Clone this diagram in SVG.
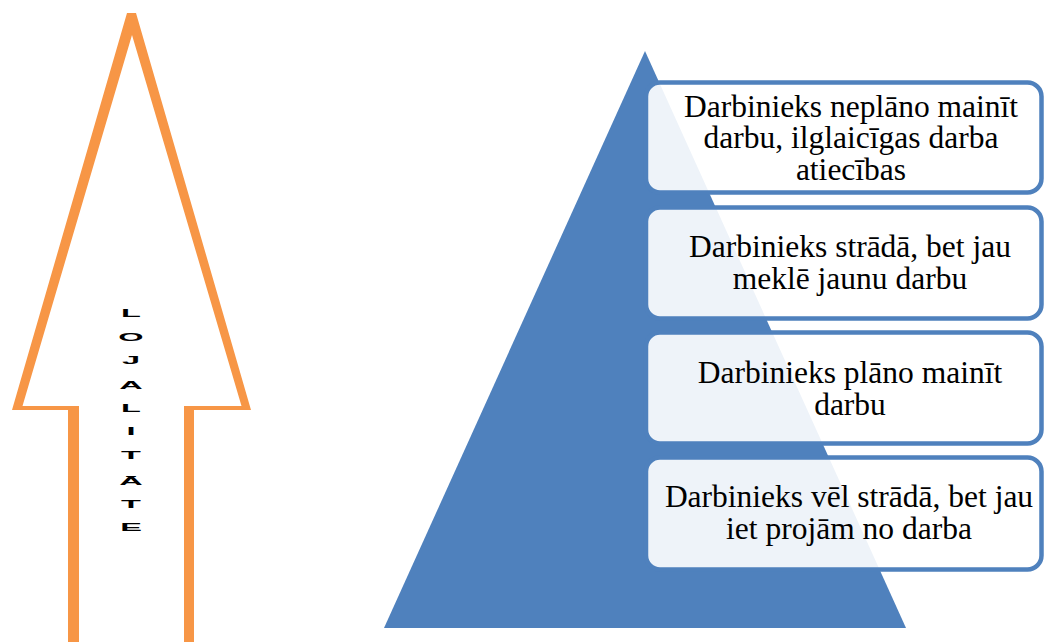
<svg xmlns="http://www.w3.org/2000/svg" width="1044" height="642" viewBox="0 0 1044 642">
  <style>
    .step { fill: #ffffff; fill-opacity: 0.9; stroke: #4f81bd; stroke-width: 4.5; }
    .label { font-family: "Liberation Serif", "Times New Roman", serif; font-size: 31.5px; fill: #000000; text-anchor: middle; }
    .vert { font-family: "Liberation Sans", Arial, sans-serif; font-size: 10.5px; font-weight: bold; fill: #000000; text-anchor: middle; }
  </style>
  <rect width="1044" height="642" fill="#ffffff"/>

  <!-- Loyalty arrow: hollow orange outline, shaft running off the bottom edge -->
  <g id="arrow">
    <path fill="#f79646" fill-rule="evenodd"
      d="M127,13 L136,13 L251,410 L194,410 L194,650 L68,650 L68,410 L12,410 Z
         M132,35 L241.5,406 L184,406 L184,650 L79,650 L79,406 L22.5,406 Z"/>
    <!-- stacked letters, stretched sideways -->
    <g transform="translate(131,0) scale(3.1,1)">
      <text class="vert" x="0" y="317">L</text>
      <text class="vert" x="0" y="341">O</text>
      <text class="vert" x="0" y="364">J</text>
      <text class="vert" x="0" y="389">A</text>
      <text class="vert" x="0" y="412">L</text>
      <text class="vert" x="0" y="435">I</text>
      <text class="vert" x="0" y="459">T</text>
      <text class="vert" x="0" y="485">Ā</text>
      <text class="vert" x="0" y="508">T</text>
      <text class="vert" x="0" y="531">E</text>
    </g>
  </g>

  <!-- Pyramid -->
  <g id="pyramid">
    <polygon points="645,51 906,628 384,628" fill="#4f81bd"/>
  </g>

  <!-- Levels, top to bottom -->
  <g id="box1">
    <rect class="step" x="646" y="82.5" width="395.5" height="110" rx="14"/>
    <text class="label"><tspan x="851" y="116.5">Darbinieks neplāno mainīt</tspan><tspan x="851" y="148">darbu, ilglaicīgas darba</tspan><tspan x="851" y="179.5">atiecības</tspan></text>
  </g>
  <g id="box2">
    <rect class="step" x="646" y="207.5" width="395.5" height="111" rx="14"/>
    <text class="label"><tspan x="850" y="257">Darbinieks strādā, bet jau</tspan><tspan x="850" y="289">meklē jaunu darbu</tspan></text>
  </g>
  <g id="box3">
    <rect class="step" x="646" y="332.5" width="395.5" height="111" rx="14"/>
    <text class="label"><tspan x="850" y="382.5">Darbinieks plāno mainīt</tspan><tspan x="850" y="414.5">darbu</tspan></text>
  </g>
  <g id="box4">
    <rect class="step" x="646" y="457.5" width="395.5" height="112" rx="14"/>
    <text class="label"><tspan x="849" y="507">Darbinieks vēl strādā, bet jau</tspan><tspan x="849" y="539">iet projām no darba</tspan></text>
  </g>
</svg>
